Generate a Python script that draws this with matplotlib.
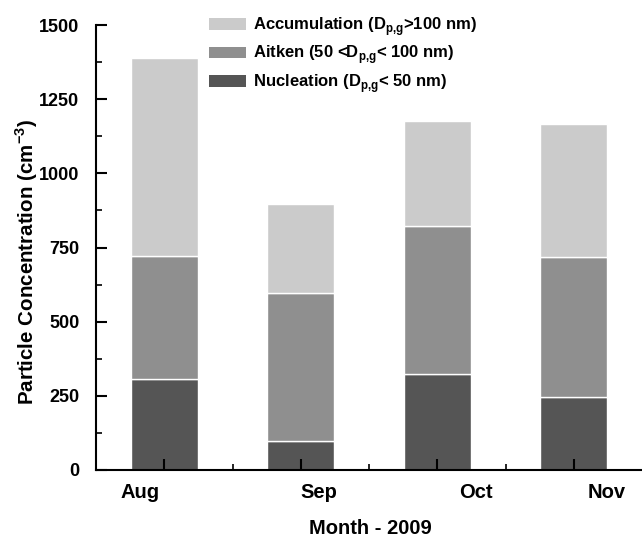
import matplotlib.pyplot as plt
import matplotlib.transforms as mtransforms
from matplotlib.patches import Patch
import numpy as np

plt.rcParams['font.family'] = ['Liberation Sans', 'DejaVu Sans']
plt.rcParams['mathtext.fontset'] = 'custom'
plt.rcParams['mathtext.rm'] = 'Liberation Sans'
plt.rcParams['mathtext.bf'] = 'Liberation Sans:bold'

meses = ["Aug", "Sep", "Oct", "Nov"]
nucleacion = [308, 97, 323, 245]
aitken = [414, 498, 498, 473]
acumulacion = [666, 300, 355, 449]

# the month names sit a bit off their ticks
pos_etiquetas = [-0.18, 1.13, 2.28, 3.24]

color_nuc = "#555555"
color_ait = "#8f8f8f"
color_acu = "#cbcbcb"

fig = plt.figure(figsize=(6.42, 5.37), dpi=100)
ax = fig.add_axes([96 / 642, 1 - 470 / 537, 1 - 96 / 642, (470 - 25) / 537])

x = np.arange(len(meses))
nuc = np.array(nucleacion)
ait = np.array(aitken)
acu = np.array(acumulacion)

ax.bar(x, nuc, width=0.49, color=color_nuc, edgecolor="white", linewidth=1)
ax.bar(x, ait, width=0.49, bottom=nuc, color=color_ait, edgecolor="white", linewidth=1)
ax.bar(x, acu, width=0.49, bottom=nuc + ait, color=color_acu, edgecolor="white", linewidth=1)

ax.set_xlim(-0.5, 3.5)
ax.set_ylim(0, 1500)
ax.set_yticks(np.arange(0, 1501, 250))
ax.set_yticks(np.arange(125, 1500, 250), minor=True)
ax.set_xticks(x)
ax.set_xticks([0.5, 1.5, 2.5], minor=True)
ax.set_xticklabels([])

ax.tick_params(axis="both", which="major", direction="in", length=8, width=1.5, colors="black")
ax.tick_params(axis="both", which="minor", direction="in", length=4, width=1.2)
ax.tick_params(axis="y", which="major", pad=12, labelsize=13)
for lab in ax.get_yticklabels():
    lab.set_fontweight("bold")

for s in ["top", "right"]:
    ax.spines[s].set_visible(False)
ax.spines["left"].set_linewidth(1.5)
ax.spines["bottom"].set_linewidth(1.5)

trans = mtransforms.blended_transform_factory(ax.transData, fig.transFigure)
for p, m in zip(pos_etiquetas, meses):
    ax.text(p, 1 - 493 / 537, m, transform=trans, ha="center", va="center",
            fontsize=14.5, fontweight="bold")

fig.text(370 / 642, 1 - 528 / 537, "Month - 2009", ha="center", va="center",
         fontsize=14.5, fontweight="bold")
fig.text(27 / 642, 1 - 262 / 537, r"Particle Concentration (cm$^{\mathbf{-3}}$)",
         rotation=90, ha="center", va="center", fontsize=14.8, fontweight="bold")

handles = [Patch(facecolor=color_acu), Patch(facecolor=color_ait), Patch(facecolor=color_nuc)]
etiquetas = [r"Accumulation (D$_{\mathbf{p{,}g}}$>100 nm)",
             r"Aitken (50 <D$_{\mathbf{p{,}g}}$< 100 nm)",
             r"Nucleation (D$_{\mathbf{p{,}g}}$< 50 nm)"]
leg = fig.legend(handles, etiquetas, loc="upper left", bbox_to_anchor=(209 / 642, 1 - 15 / 537),
                 frameon=False, prop={"size": 12, "weight": "bold"}, handlelength=2.2,
                 handleheight=0.7, handletextpad=0.42, labelspacing=0.33, borderpad=0,
                 borderaxespad=0)

fig.savefig("out.png", dpi=100)
